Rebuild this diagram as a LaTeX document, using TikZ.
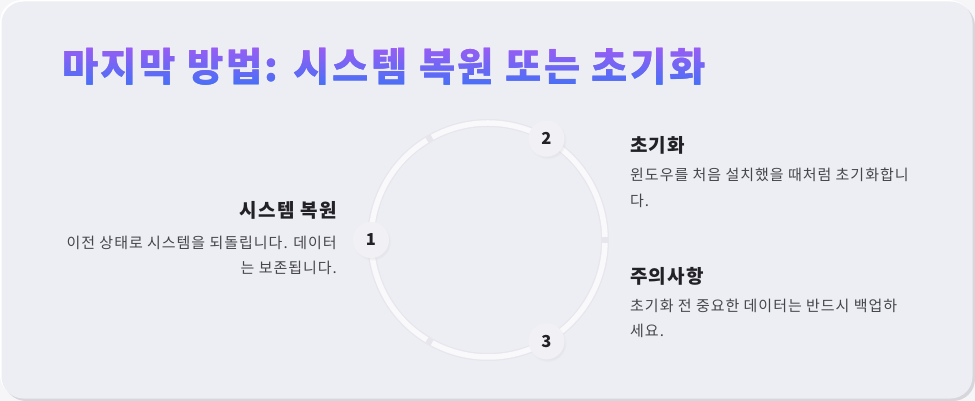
\documentclass[tikz,border=0pt]{standalone}
\usepackage{fontspec}
\newfontfamily\kr{Noto Sans CJK KR}
\usetikzlibrary{shadows}
\definecolor{cardbg}{HTML}{EDEEF4}
\definecolor{pagebg}{HTML}{F6F6F8}
\definecolor{cardshadow}{HTML}{D6D6DC}
\definecolor{ringdark}{HTML}{E6E6EC}
\definecolor{ringlight}{HTML}{F9F9FB}
\definecolor{nodefill}{HTML}{F1F1F5}
\definecolor{headc}{HTML}{222226}
\definecolor{bodyc}{HTML}{45454B}
\definecolor{titletop}{HTML}{9E5CF4}
\definecolor{titlebot}{HTML}{4870F5}
\tikzset{
  numnode/.style={circle, minimum size=36pt, inner sep=0pt, fill=nodefill,
    circular drop shadow={shadow xshift=1.2pt, shadow yshift=-1.8pt, opacity=0.35, fill=cardshadow, shadow scale=1.05},
    text=headc, font=\kr\bfseries\fontsize{16.5}{18}\selectfont},
  headtxt/.style={inner sep=0pt, text=headc, font=\kr\bfseries\fontsize{19}{22}\selectfont\addfontfeature{LetterSpace=7}},
  bodytxt/.style={inner sep=0pt, text=bodyc, font=\kr\fontsize{15}{18}\selectfont\addfontfeature{LetterSpace=6.5}},
  titletxt/.style={inner sep=0pt, font=\kr\bfseries\fontsize{39.5}{44}\selectfont\addfontfeature{LetterSpace=6}},
}
\begin{document}
\begin{tikzpicture}[x=1pt,y=-1pt]
\useasboundingbox (0,0) rectangle (975,401);
\fill[pagebg] (0,0) rectangle (975,401);
\fill[cardshadow, rounded corners=22pt] (4,4) rectangle (975,401);
\fill[white, rounded corners=22pt] (0,0) rectangle (971,397);
\fill[cardbg, rounded corners=22pt] (1.5,1.5) rectangle (972.5,398.5);
% title with vertical gradient (band clipping)
\foreach \i in {0,...,27} {
  \pgfmathsetmacro\ya{38+2*\i}
  \pgfmathtruncatemacro\p{min(100,max(0,(\ya+1-46)/40*100))}
  \begin{scope}
    \clip (0,\ya) rectangle (975,\ya+2.1);
    \node[titletxt, text=titlebot!\p!titletop, anchor=base west] (title\i) at (62,82) {마지막 방법: 시스템 복원 또는 초기화};
  \end{scope}
}
% ring
\coordinate (c) at (488,240);
\draw[ringdark, line width=8pt] (c) circle[radius=117];
\foreach \a/\b in {1.5/118.5,121.5/238.5,241.5/358.5}{
  \draw[ringlight, line width=5.5pt] ([shift={(\a:117)}]c) arc[start angle=\a, end angle=\b, radius=117];
}
% number nodes
\node[numnode] (n1) at ([shift={(180:117)}]c) {1};
\node[numnode] (n2) at ([shift={(-60:117)}]c) {2};
\node[numnode] (n3) at ([shift={(60:117)}]c) {3};
% left text
\node[headtxt, anchor=base east] (h1) at (337,218) {시스템 복원};
\node[bodytxt, anchor=base east] (b1a) at (337,248) {이전 상태로 시스템을 되돌립니다. 데이터};
\node[bodytxt, anchor=base east] (b1b) at (337,273) {는 보존됩니다.};
% right top
\node[headtxt, anchor=base west] (h2) at (630,153) {초기화};
\node[bodytxt, anchor=base west] (b2a) at (630,181) {윈도우를 처음 설치했을 때처럼 초기화합니};
\node[bodytxt, anchor=base west] (b2b) at (630,206) {다.};
% right bottom
\node[headtxt, anchor=base west] (h3) at (630,283) {주의사항};
\node[bodytxt, anchor=base west] (b3a) at (630,311) {초기화 전 중요한 데이터는 반드시 백업하};
\node[bodytxt, anchor=base west] (b3b) at (630,336) {세요.};
\end{tikzpicture}
\end{document}
